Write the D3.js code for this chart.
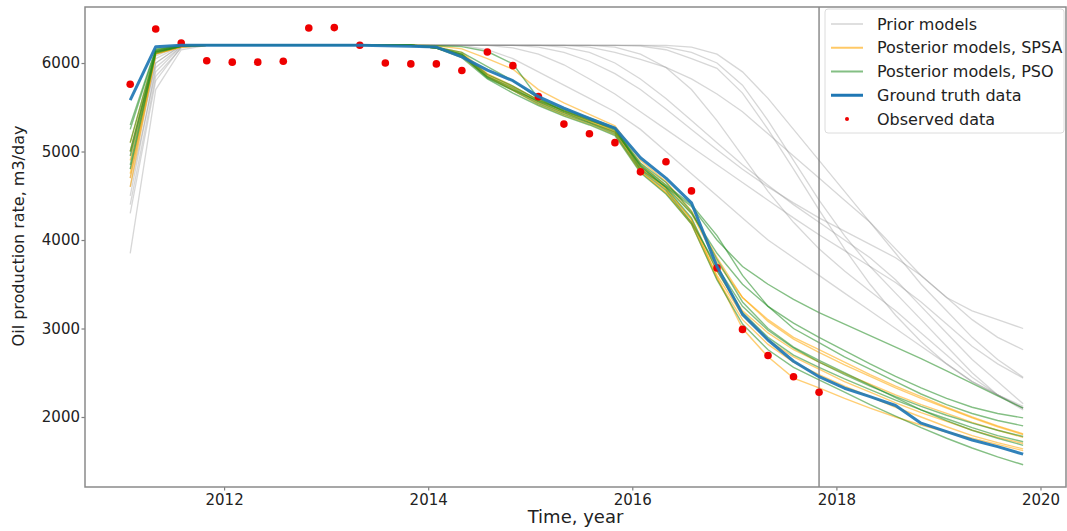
<!DOCTYPE html>
<html>
<head>
<meta charset="utf-8">
<script src="https://cdn.jsdelivr.net/npm/d3@7"></script>
<style>
  body { margin: 0; background: #fff; }
  svg { display: block; font-family: "DejaVu Sans", sans-serif; }
</style>
</head>
<body>
<div id="chart"></div>
<script>
// Data (quarterly samples)
const years = [2011.08, 2011.33, 2011.58, 2011.83, 2012.08, 2012.33, 2012.58, 2012.83, 2013.08, 2013.33,
  2013.58, 2013.83, 2014.08, 2014.33, 2014.58, 2014.83, 2015.08, 2015.33, 2015.58, 2015.83,
  2016.08, 2016.33, 2016.58, 2016.83, 2017.08, 2017.33, 2017.58, 2017.83, 2018.08, 2018.33,
  2018.58, 2018.83, 2019.08, 2019.33, 2019.58, 2019.83]

const observed = [5760, 6385, 6225, 6025, 6010, 6010, 6020, 6395, 6400, 6200, 6000, 5990, 5990, 5915,
  6125, 5970, 5620, 5310, 5200, 5100, 4770, 4885, 4555, 3685, 2990, 2695, 2455, 2280]

const groundTruth = [5580, 6185, 6200, 6200, 6200, 6200, 6200, 6200, 6200, 6200, 6195, 6190, 6180,
  6070, 5920, 5800, 5620, 5490, 5375, 5265, 4930, 4700, 4420, 3700, 3160, 2870, 2630, 2455,
  2325, 2230, 2130, 1930, 1835, 1740, 1665, 1580]

const priorModels = [
  [3850, 5700, 6150, 6200, 6200, 6200, 6200, 6200, 6200, 6200, 6200, 6200, 6200, 6200, 6200, 6200, 6200, 6200,
    6200, 6200, 6190, 6150, 6050, 5940, 5660, 5250, 4800, 4340, 3900, 3500, 3150, 2850, 2600, 2400, 2250, 2120],
  [4300, 5800, 6180, 6200, 6200, 6200, 6200, 6200, 6200, 6200, 6200, 6200, 6200, 6200, 6200, 6200, 6200, 6200,
    6180, 6120, 6040, 5950, 5820, 5650, 5450, 5200, 4950, 4700, 4450, 4200, 3900, 3600, 3350, 3200, 3100, 3000],
  [4600, 5900, 6190, 6200, 6200, 6200, 6200, 6200, 6200, 6200, 6200, 6200, 6200, 6200, 6200, 6200, 6180, 6120,
    6020, 5880, 5700, 5480, 5250, 5020, 4800, 4600, 4420, 4250, 4100, 3950, 3800, 3600, 3350, 3100, 2900, 2760],
  [4800, 6000, 6200, 6200, 6200, 6200, 6200, 6200, 6200, 6200, 6200, 6200, 6200, 6200, 6200, 6170, 6100, 5980,
    5820, 5650, 5450, 5250, 5050, 4850, 4650, 4450, 4250, 4060, 3880, 3700, 3520, 3300, 3050, 2800, 2600, 2440],
  [4950, 6050, 6200, 6200, 6200, 6200, 6200, 6200, 6200, 6200, 6200, 6200, 6200, 6200, 6200, 6200, 6200, 6200,
    6200, 6180, 6100, 5950, 5700, 5350, 4950, 4550, 4200, 3900, 3650, 3420, 3200, 2950, 2700, 2450, 2250, 2100],
  [4500, 5950, 6190, 6200, 6200, 6200, 6200, 6200, 6200, 6200, 6200, 6200, 6200, 6200, 6200, 6200, 6200, 6180,
    6120, 6000, 5820, 5600, 5350, 5100, 4850, 4620, 4400, 4200, 4000, 3800, 3550, 3250, 2950, 2650, 2400, 2150],
  [4700, 6000, 6200, 6200, 6200, 6200, 6200, 6200, 6200, 6200, 6200, 6200, 6200, 6200, 6200, 6200, 6200, 6200,
    6200, 6200, 6200, 6180, 6120, 6000, 5750, 5350, 4900, 4450, 4050, 3700, 3400, 3100, 2800, 2500, 2250, 2080],
  [5000, 6080, 6200, 6200, 6200, 6200, 6200, 6200, 6200, 6200, 6200, 6200, 6200, 6200, 6150, 6050, 5900, 5750,
    5600, 5450, 5250, 5000, 4750, 4500, 4250, 4000, 3800, 3600, 3400, 3200, 3000, 2800, 2600, 2400, 2250, 2100],
  [4400, 5850, 6170, 6200, 6200, 6200, 6200, 6200, 6200, 6200, 6200, 6200, 6200, 6200, 6200, 6200, 6200, 6200,
    6200, 6200, 6200, 6200, 6180, 6100, 5900, 5600, 5250, 4900, 4550, 4200, 3850, 3500, 3200, 2900, 2650, 2450]
]

const spsaModels = [
  [4600, 6100, 6180, 6200, 6200, 6200, 6200, 6200, 6200, 6200, 6200, 6200, 6180, 6120, 5880, 5740, 5580, 5460,
    5350, 5230, 4820, 4580, 4230, 3580, 3000, 2680, 2440, 2330, 2210, 2100, 2000, 1910, 1830, 1760, 1690, 1620],
  [4750, 6110, 6190, 6200, 6200, 6200, 6200, 6200, 6200, 6200, 6200, 6200, 6195, 6160, 6050, 5930, 5700, 5550,
    5420, 5290, 4900, 4660, 4330, 3800, 3350, 3080, 2880, 2730, 2590, 2460, 2330, 2210, 2100, 1990, 1890, 1800],
  [5000, 6130, 6190, 6200, 6200, 6200, 6200, 6200, 6200, 6200, 6200, 6200, 6170, 6080, 5850, 5700, 5560, 5440,
    5340, 5220, 4810, 4570, 4230, 3650, 3200, 2950, 2760, 2620, 2490, 2370, 2250, 2140, 2040, 1940, 1850, 1770],
  [4700, 6100, 6180, 6200, 6200, 6200, 6200, 6200, 6200, 6200, 6200, 6200, 6170, 6090, 5860, 5710, 5550, 5430,
    5330, 5210, 4780, 4540, 4180, 3560, 3100, 2820, 2620, 2480, 2350, 2230, 2110, 2000, 1890, 1790, 1710, 1640],
  [5100, 6140, 6200, 6200, 6200, 6200, 6200, 6200, 6200, 6200, 6200, 6200, 6180, 6100, 5870, 5730, 5580, 5460,
    5360, 5250, 4860, 4620, 4300, 3750, 3350, 3100, 2900, 2760, 2620, 2480, 2350, 2230, 2110, 2000, 1900, 1810],
  [4900, 6120, 6190, 6200, 6200, 6200, 6200, 6200, 6200, 6200, 6200, 6200, 6170, 6070, 5840, 5690, 5530, 5410,
    5310, 5190, 4770, 4530, 4200, 3600, 3150, 2870, 2680, 2540, 2400, 2280, 2160, 2050, 1950, 1850, 1770, 1700]
]

const psoModels = [
  [4950, 6130, 6190, 6200, 6200, 6200, 6200, 6200, 6200, 6200, 6200, 6200, 6180, 6120, 5960, 5800, 5600, 5450,
    5350, 5260, 4800, 4600, 4380, 4000, 3700, 3500, 3330, 3180, 3050, 2920, 2790, 2660, 2520, 2380, 2240, 2100],
  [5250, 6150, 6200, 6200, 6200, 6200, 6200, 6200, 6200, 6200, 6200, 6200, 6170, 6100, 5850, 5720, 5560, 5440,
    5330, 5220, 4850, 4620, 4400, 4050, 3600, 3250, 3000, 2840, 2680, 2540, 2400, 2260, 2140, 2040, 1960, 1900],
  [4800, 6110, 6190, 6200, 6200, 6200, 6200, 6200, 6200, 6200, 6200, 6200, 6170, 6090, 5830, 5690, 5540, 5420,
    5320, 5200, 4790, 4560, 4200, 3700, 3250, 2980, 2780, 2620, 2480, 2350, 2230, 2120, 2020, 1930, 1850, 1780],
  [5100, 6140, 6200, 6200, 6200, 6200, 6200, 6200, 6200, 6200, 6200, 6200, 6170, 6080, 5840, 5700, 5570, 5460,
    5360, 5240, 4840, 4590, 4250, 3650, 3180, 2900, 2700, 2560, 2430, 2310, 2190, 2080, 1980, 1880, 1790, 1720],
  [4850, 6120, 6190, 6200, 6200, 6200, 6200, 6200, 6200, 6200, 6200, 6200, 6170, 6060, 5820, 5660, 5520, 5400,
    5300, 5180, 4760, 4520, 4180, 3550, 3050, 2760, 2560, 2420, 2280, 2140, 2010, 1880, 1760, 1650, 1550, 1460],
  [5300, 6160, 6200, 6200, 6200, 6200, 6200, 6200, 6200, 6200, 6200, 6200, 6180, 6100, 5870, 5740, 5580, 5470,
    5370, 5260, 4870, 4650, 4320, 3780, 3300, 3000, 2790, 2640, 2500, 2360, 2220, 2080, 1960, 1850, 1760, 1680],
  [5000, 6130, 6190, 6200, 6200, 6200, 6200, 6200, 6200, 6200, 6200, 6200, 6195, 6185, 6130, 5990, 5600, 5480,
    5380, 5270, 4830, 4600, 4300, 3850, 3500, 3250, 3060, 2900, 2750, 2600, 2460, 2330, 2210, 2110, 2040, 1990]
]

const xTicks = [2012, 2014, 2016, 2018, 2020]
const yTicks = [2000, 3000, 4000, 5000, 6000]
const historyEnd = 2017.83
const legendLabels = ["Prior models", "Posterior models, SPSA", "Posterior models, PSO", "Ground truth data", "Observed data"]

function draw() {
  // Dimensions
  let dimensions = {
    width: 1067,
    height: 531,
    margins: { top: 7, right: 1, bottom: 44, left: 85 },
    ctrWidth: 0,
    ctrHeight: 0
  }
  dimensions.ctrWidth = dimensions.width - dimensions.margins.left - dimensions.margins.right
  dimensions.ctrHeight = dimensions.height - dimensions.margins.top - dimensions.margins.bottom

  const svg = d3.select('#chart')
    .append("svg")
    .attr("width", dimensions.width)
    .attr("height", dimensions.height)

  const ctr = svg.append("g")
    .attr("transform", `translate(${dimensions.margins.left}, ${dimensions.margins.top})`)

  // Scales
  const xScale = d3.scaleLinear()
    .domain([2010.637, 2020.25])
    .range([0, dimensions.ctrWidth])

  const yScale = d3.scaleLinear()
    .domain([1209, 6633])
    .range([dimensions.ctrHeight, 0])

  const line = d3.line()
    .x((d, i) => xScale(years[i]))
    .y(d => yScale(d))

  svg.append("clipPath").attr("id", "plot-clip")
    .append("rect")
    .attr("width", dimensions.ctrWidth)
    .attr("height", dimensions.ctrHeight)

  const plot = ctr.append("g").attr("clip-path", "url(#plot-clip)")

  // Prior ensemble
  plot.append("g").selectAll("path")
    .data(priorModels)
    .join("path")
    .attr("d", line)
    .attr("fill", "none")
    .attr("stroke", "#8c8c8c")
    .attr("stroke-opacity", 0.35)
    .attr("stroke-width", 1.3)

  // Posterior SPSA
  plot.append("g").selectAll("path")
    .data(spsaModels)
    .join("path")
    .attr("d", line)
    .attr("fill", "none")
    .attr("stroke", "#ffa500")
    .attr("stroke-opacity", 0.55)
    .attr("stroke-width", 1.4)

  // Posterior PSO
  plot.append("g").selectAll("path")
    .data(psoModels)
    .join("path")
    .attr("d", line)
    .attr("fill", "none")
    .attr("stroke", "#1f8a1f")
    .attr("stroke-opacity", 0.55)
    .attr("stroke-width", 1.4)

  // History-match cutoff
  plot.append("line")
    .attr("x1", xScale(historyEnd))
    .attr("x2", xScale(historyEnd))
    .attr("y1", 0)
    .attr("y2", dimensions.ctrHeight)
    .attr("stroke", "#7a7a7a")
    .attr("stroke-width", 1.3)

  // Observed points
  plot.append("g").selectAll("circle")
    .data(observed)
    .join("circle")
    .attr("cx", (d, i) => xScale(years[i]))
    .attr("cy", d => yScale(d))
    .attr("r", 3.8)
    .attr("fill", "#ee0000")

  // Ground truth
  plot.append("path")
    .datum(groundTruth)
    .attr("d", line)
    .attr("fill", "none")
    .attr("stroke", "#1f77b4")
    .attr("stroke-opacity", 0.92)
    .attr("stroke-width", 3)
    .attr("stroke-linejoin", "round")

  // Axes
  const xAxis = d3.axisBottom(xScale)
    .tickValues(xTicks)
    .tickFormat(d3.format("d"))
    .tickSize(3.5)
    .tickPadding(4)

  const yAxis = d3.axisLeft(yScale)
    .tickValues(yTicks)
    .tickFormat(d3.format("d"))
    .tickSize(3.5)
    .tickPadding(1.5)

  const xAxisGroup = ctr.append("g")
    .attr("transform", `translate(0, ${dimensions.ctrHeight})`)
    .call(xAxis)

  const yAxisGroup = ctr.append("g").call(yAxis)

  ;[xAxisGroup, yAxisGroup].forEach(g => {
    g.select(".domain").remove()
    g.selectAll(".tick line").attr("stroke", "#7f7f7f").attr("stroke-width", 1.2)
    g.selectAll(".tick text")
      .attr("fill", "#222")
      .style("font-size", "15px")
      .style("font-family", "DejaVu Sans")
  })

  // Frame
  ctr.append("rect")
    .attr("width", dimensions.ctrWidth)
    .attr("height", dimensions.ctrHeight)
    .attr("fill", "none")
    .attr("stroke", "#8a8a8a")
    .attr("stroke-width", 1.5)

  // Axis labels
  svg.append("text")
    .attr("x", dimensions.margins.left + dimensions.ctrWidth / 2)
    .attr("y", 523)
    .attr("text-anchor", "middle")
    .attr("fill", "#222")
    .style("font-size", "18px")
    .text("Time, year")

  svg.append("text")
    .attr("transform", "translate(24, 236) rotate(-90)")
    .attr("text-anchor", "middle")
    .attr("fill", "#222")
    .style("font-size", "16px")
    .text("Oil production rate, m3/day")

  // Legend
  const legend = svg.append("g")
  legend.append("rect")
    .attr("x", 825)
    .attr("y", 9)
    .attr("width", 239)
    .attr("height", 124)
    .attr("rx", 3)
    .attr("fill", "#fff")
    .attr("fill-opacity", 0.85)
    .attr("stroke", "#dcdcdc")

  const handles = [
    { stroke: "#8c8c8c", opacity: 0.4, width: 1.4 },
    { stroke: "#ffa500", opacity: 0.6, width: 2 },
    { stroke: "#1f8a1f", opacity: 0.55, width: 2 },
    { stroke: "#1f77b4", opacity: 1, width: 3 },
    null
  ]

  const items = legend.selectAll("g.item")
    .data(legendLabels)
    .join("g")
    .classed("item", true)
    .attr("transform", (d, i) => `translate(0, ${24 + i * 23.75})`)

  items.each(function (d, i) {
    const g = d3.select(this)
    const h = handles[i]
    if (h) {
      g.append("line")
        .attr("x1", 831).attr("x2", 863)
        .attr("stroke", h.stroke)
        .attr("stroke-opacity", h.opacity)
        .attr("stroke-width", h.width)
    } else {
      g.append("circle")
        .attr("cx", 847).attr("cy", 0).attr("r", 2)
        .attr("fill", "#ee0000")
    }
  })

  items.append("text")
    .attr("x", 877)
    .attr("dy", "0.35em")
    .attr("fill", "#222")
    .style("font-size", "16px")
    .text(d => d)
}

draw()
</script>
</body>
</html>
